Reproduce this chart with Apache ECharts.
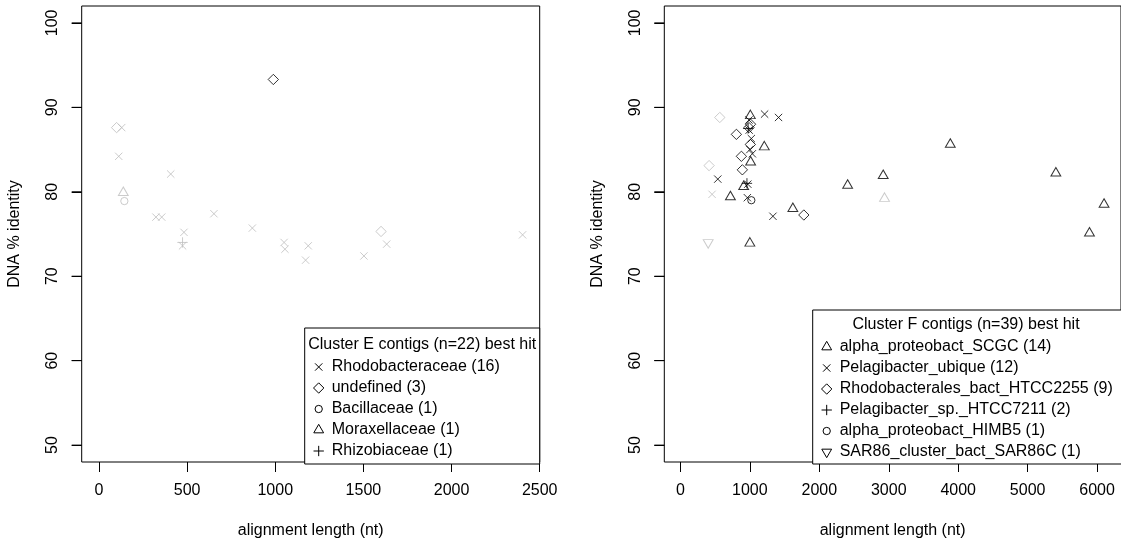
<!DOCTYPE html>
<html>
<head>
<meta charset="utf-8">
<script src="https://cdn.jsdelivr.net/npm/echarts@6/dist/echarts.min.js"></script>
<style>
  html, body { margin: 0; padding: 0; background: #fff; }
  #chart { width: 1121px; height: 544px; }
</style>
</head>
<body>
<div id="chart"></div>
<script>
// ---- Cluster E contigs: alignment length (nt), DNA % identity, best-hit index, grey flag
const eLength   = [129, 112, 407, 323, 356, 652, 482, 474, 870, 1050, 1055, 1187, 1172, 1503, 1632, 2403,
                   100, 989, 1600, 144, 138, 474];
const eIdentity = [87.6, 84.2, 82.1, 77.0, 77.0, 77.4, 75.2, 73.6, 75.7, 74.0, 73.2, 73.6, 71.9, 72.4, 73.8, 74.9,
                   87.6, 93.3, 75.3, 78.9, 79.9, 74.0];
const eHit      = [0, 0, 0, 0, 0, 0, 0, 0, 0, 0, 0, 0, 0, 0, 0, 0,
                   1, 1, 1, 2, 3, 4];
const eGrey     = [1, 1, 1, 1, 1, 1, 1, 1, 1, 1, 1, 1, 1, 1, 1, 1,
                   1, 0, 1, 1, 1, 1];
const eHitNames = ['Rhodobacteraceae', 'undefined', 'Bacillaceae', 'Moraxellaceae', 'Rhizobiaceae'];
const eHitPch   = ['times', 'diamond', 'circle', 'triangle', 'plus'];
const eTicksX   = [0, 500, 1000, 1500, 2000, 2500];

// ---- Cluster F contigs
const fLength   = [1007, 1208, 1011, 911, 720, 1619, 2408, 3886, 2920, 2939, 5406, 6100, 5890, 1000,
                   1212, 1413, 987, 1021, 1036, 538, 456, 964, 1332, 990, 1000, 970,
                   567, 806, 987, 1007, 878, 892, 413, 1777, 1010,
                   958, 975,
                   1021,
                   400];
const fIdentity = [89.0, 85.3, 83.5, 80.6, 79.4, 78.0, 80.75, 85.6, 81.9, 79.2, 82.2, 78.5, 75.1, 73.9,
                   89.2, 88.8, 88.5, 86.3, 84.5, 81.5, 79.7, 79.3, 77.1, 87.3, 85.0, 80.9,
                   88.8, 86.8, 87.6, 85.6, 84.2, 82.6, 83.1, 77.25, 88.0,
                   81.0, 87.5,
                   79.0,
                   74.0];
const fHit      = [0, 0, 0, 0, 0, 0, 0, 0, 0, 0, 0, 0, 0, 0,
                   1, 1, 1, 1, 1, 1, 1, 1, 1, 1, 1, 1,
                   2, 2, 2, 2, 2, 2, 2, 2, 2,
                   3, 3,
                   4,
                   5];
const fGrey     = [0, 0, 0, 0, 0, 0, 0, 0, 0, 1, 0, 0, 0, 0,
                   0, 0, 0, 0, 0, 0, 1, 0, 0, 0, 0, 0,
                   1, 0, 0, 0, 0, 0, 1, 0, 0,
                   0, 0,
                   0,
                   1];
const fHitNames = ['alpha_proteobact_SCGC', 'Pelagibacter_ubique', 'Rhodobacterales_bact_HTCC2255',
                   'Pelagibacter_sp._HTCC7211', 'alpha_proteobact_HIMB5', 'SAR86_cluster_bact_SAR86C'];
const fHitPch   = ['triangle', 'times', 'diamond', 'plus', 'circle', 'triangleDown'];
const fTicksX   = [0, 1000, 2000, 3000, 4000, 5000, 6000];

const yTicks = [50, 60, 70, 80, 90, 100];

// ---- styling
const FONT = '"Liberation Sans", Arial, Helvetica, sans-serif';
const BLACK = '#000000';
const GREY = '#bebebe';
const R = 3.65; // base plotting-symbol radius in px
const TR = 1.555 * R; // triangle circumradius
const TICK = 10; // tick length in px

// open plotting symbols (base-graphics pch 1..6 look)
const PCH = {
  circle:       { symbol: 'path://M0,5A5,5 0 1,1 10,5A5,5 0 1,1 0,5Z', size: [2 * R, 2 * R], offset: [0, 0] },
  triangle:     { symbol: 'path://M5,0L10,8.66L0,8.66Z', size: [1.732 * TR, 1.5 * TR], offset: [0, -TR / 4] },
  triangleDown: { symbol: 'path://M0,0L10,0L5,8.66Z', size: [1.732 * TR, 1.5 * TR], offset: [0, TR / 4] },
  plus:         { symbol: 'path://M5,0L5,10M0,5L10,5', size: [2.83 * R, 2.83 * R], offset: [0, 0] },
  times:        { symbol: 'path://M0,0L10,10M10,0L0,10', size: [2 * R, 2 * R], offset: [0, 0] },
  diamond:      { symbol: 'path://M5,0L10,5L5,10L0,5Z', size: [2.83 * R, 2.83 * R], offset: [0, 0] }
};

// legend key glyphs as graphic elements centred on (cx, cy)
function keyGlyph(kind, cx, cy) {
  const st = { fill: 'none', stroke: BLACK, lineWidth: 1 };
  const z = 101;
  const d = 1.414 * R, xc = 0.866 * TR;
  switch (kind) {
    case 'circle':
      return [{ type: 'circle', z, shape: { cx, cy, r: R }, style: st }];
    case 'triangle':
      return [{ type: 'polygon', z, shape: { points: [[cx, cy - TR], [cx + xc, cy + TR / 2], [cx - xc, cy + TR / 2]] }, style: st }];
    case 'triangleDown':
      return [{ type: 'polygon', z, shape: { points: [[cx, cy + TR], [cx + xc, cy - TR / 2], [cx - xc, cy - TR / 2]] }, style: st }];
    case 'diamond':
      return [{ type: 'polygon', z, shape: { points: [[cx, cy - d], [cx + d, cy], [cx, cy + d], [cx - d, cy]] }, style: st }];
    case 'plus':
      return [{ type: 'line', z, shape: { x1: cx - d, y1: cy, x2: cx + d, y2: cy }, style: st },
              { type: 'line', z, shape: { x1: cx, y1: cy - d, x2: cx, y2: cy + d }, style: st }];
    default: // times
      return [{ type: 'line', z, shape: { x1: cx - R, y1: cy - R, x2: cx + R, y2: cy + R }, style: st },
              { type: 'line', z, shape: { x1: cx - R, y1: cy + R, x2: cx + R, y2: cy - R }, style: st }];
  }
}

const panels = [
  { grid: { left: 81.7, top: 6, width: 458, height: 458 }, xMin: -98, xMax: 2500, xTicks: eTicksX,
    len: eLength, ident: eIdentity, hit: eHit, grey: eGrey, names: eHitNames, pch: eHitPch,
    title: 'Cluster E contigs (n=' + eLength.length + ') best hit',
    box: { x: 304.7, y: 328, w: 235, h: 136 }, titleX: 422.2, titleY: 345, rowY: 367 },
  { grid: { left: 664.3, top: 6, width: 458.4, height: 458 }, xMin: -232, xMax: 6344, xTicks: fTicksX,
    len: fLength, ident: fIdentity, hit: fHit, grey: fGrey, names: fHitNames, pch: fHitPch,
    title: 'Cluster F contigs (n=' + fLength.length + ') best hit',
    box: { x: 812.7, y: 310, w: 330, h: 154 }, titleX: 966, titleY: 325, rowY: 347 }
];
const ROW = 21;

const grids = [], xAxes = [], yAxes = [], series = [], legendEls = [];
const plain = v => String(v);

panels.forEach((p, i) => {
  grids.push(Object.assign({ show: true, borderColor: BLACK, borderWidth: 1, backgroundColor: 'transparent' }, p.grid));
  xAxes.push({
    gridIndex: i, type: 'value', min: p.xMin, max: p.xMax,
    axisLine: { show: false, onZero: false }, splitLine: { show: false },
    axisTick: { show: true, length: TICK, lineStyle: { color: BLACK }, customValues: p.xTicks },
    axisLabel: { customValues: p.xTicks, formatter: plain, margin: 21, fontSize: 16, fontFamily: FONT, color: BLACK },
    name: 'alignment length (nt)', nameLocation: 'middle', nameGap: 61,
    nameTextStyle: { fontSize: 16, fontFamily: FONT, color: BLACK }
  });
  yAxes.push({
    gridIndex: i, type: 'value', min: 48, max: 102,
    axisLine: { show: false, onZero: false }, splitLine: { show: false },
    axisTick: { show: true, length: TICK, lineStyle: { color: BLACK }, customValues: yTicks },
    axisLabel: { customValues: yTicks, formatter: plain, rotate: 90, margin: 21, fontSize: 16, fontFamily: FONT, color: BLACK },
    name: 'DNA % identity', nameLocation: 'middle', nameGap: 59,
    nameTextStyle: { fontSize: 16, fontFamily: FONT, color: BLACK }
  });

  // one scatter series per best-hit group
  p.names.forEach((name, h) => {
    const s = PCH[p.pch[h]];
    const data = [];
    p.len.forEach((x, k) => {
      if (p.hit[k] === h) {
        data.push({ value: [x, p.ident[k]], itemStyle: { borderColor: p.grey[k] ? GREY : BLACK } });
      }
    });
    series.push({
      type: 'scatter', name: name, xAxisIndex: i, yAxisIndex: i,
      symbol: s.symbol, symbolSize: s.size, symbolOffset: s.offset,
      itemStyle: { color: 'rgba(0,0,0,0)', borderColor: BLACK, borderWidth: 1 },
      emphasis: { disabled: true }, silent: true, animation: false,
      data: data
    });
  });

  // legend box
  const b = p.box;
  legendEls.push({ type: 'rect', shape: { x: b.x, y: b.y, width: b.w, height: b.h },
    style: { fill: '#fff', stroke: BLACK, lineWidth: 1 }, z: 100 });
  legendEls.push({ type: 'text', x: p.titleX, y: p.titleY, z: 101,
    style: { text: p.title, font: '16px ' + FONT, fill: BLACK, align: 'center', verticalAlign: 'middle' } });
  p.names.forEach((name, h) => {
    const count = p.hit.filter(v => v === h).length;
    const cy = p.rowY + h * ROW;
    keyGlyph(p.pch[h], b.x + 14, cy).forEach(el => legendEls.push(el));
    legendEls.push({ type: 'text', x: b.x + 27, y: cy, z: 101,
      style: { text: name + ' (' + count + ')', font: '16px ' + FONT, fill: BLACK, align: 'left', verticalAlign: 'middle' } });
  });
});

const chart = echarts.init(document.getElementById('chart'), null, { renderer: 'canvas' });
chart.setOption({
  animation: false,
  backgroundColor: '#ffffff',
  grid: grids, xAxis: xAxes, yAxis: yAxes, series: series
});

// outward y-axis tick marks, placed through each panel's own scale
const tickEls = [];
panels.forEach((p, i) => {
  yTicks.forEach(v => {
    const pt = chart.convertToPixel({ gridIndex: i }, [p.xMin, v]);
    tickEls.push({ type: 'line', z: 50, silent: true,
      shape: { x1: pt[0] - TICK, y1: pt[1], x2: pt[0], y2: pt[1] },
      style: { stroke: BLACK, lineWidth: 1 } });
  });
});
chart.setOption({ graphic: { elements: tickEls.concat(legendEls) } });
</script>
</body>
</html>
